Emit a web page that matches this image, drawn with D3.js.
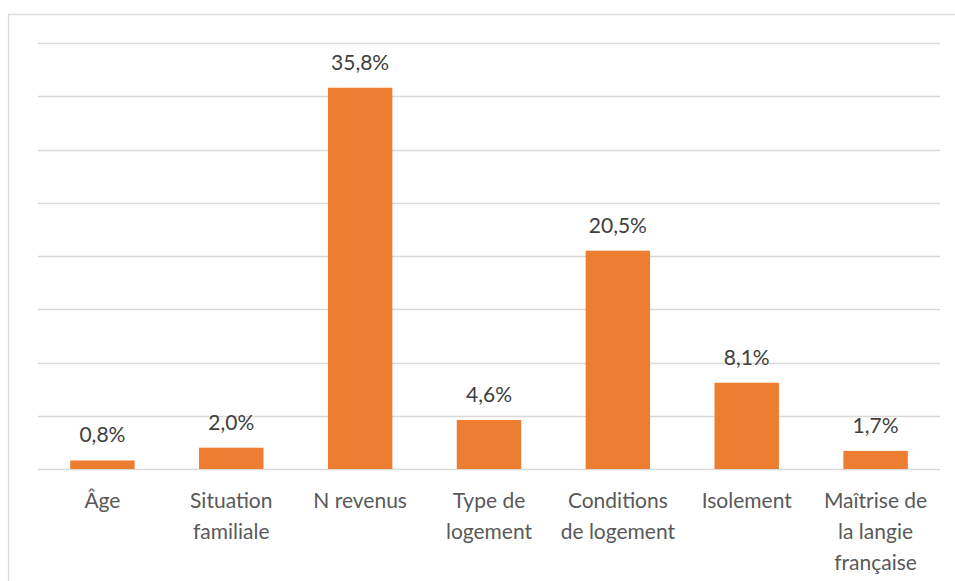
<!DOCTYPE html>
<html>
<head>
<meta charset="utf-8">
<script src="https://cdn.jsdelivr.net/npm/d3@7"></script>
<style>
  body { margin: 0; background: #fff; }
  svg { display: block; font-family: Lato, "Open Sans", sans-serif; }
</style>
</head>
<body>
<div id="vis"></div>
<script>
// données du graphique
const categories = [
  ["Âge"],
  ["Situation", "familiale"],
  ["N revenus"],
  ["Type de", "logement"],
  ["Conditions", "de logement"],
  ["Isolement"],
  ["Maîtrise de", "la langie", "française"]
];
const values = [0.8, 2.0, 35.8, 4.6, 20.5, 8.1, 1.7];
const yTicks = [0, 5, 10, 15, 20, 25, 30, 35, 40];

const width = 955;
const height = 581;
const margin = { top: 43, right: 15, bottom: 112, left: 38 };

const svg = d3.select("#vis")
  .append("svg")
  .attr("width", width)
  .attr("height", height);

// cadre du graphique
svg.append("rect")
  .attr("x", 8.5)
  .attr("y", 14.5)
  .attr("width", width)
  .attr("height", height)
  .attr("fill", "none")
  .attr("stroke", "#d9d9d9")
  .attr("stroke-width", 1.3);

const x = d3.scaleBand()
  .domain(d3.range(categories.length))
  .range([margin.left, width - margin.right])
  .paddingInner(0.5)
  .paddingOuter(0.25);

const y = d3.scaleLinear()
  .domain([0, 40])
  .range([height - margin.bottom, margin.top]);

// lignes de grille
svg.append("g")
  .selectAll("line")
  .data(yTicks)
  .enter()
  .append("line")
  .attr("x1", margin.left)
  .attr("x2", width - margin.right)
  .attr("y1", d => Math.round(y(d)) + 0.5)
  .attr("y2", d => Math.round(y(d)) + 0.5)
  .attr("stroke", "#d9d9d9")
  .attr("stroke-width", 1.5);

// barres
svg.append("g")
  .selectAll("rect")
  .data(values)
  .enter()
  .append("rect")
  .attr("x", (_d, i) => x(i))
  .attr("y", d => y(d))
  .attr("width", x.bandwidth())
  .attr("height", d => y(0) - y(d))
  .attr("fill", "#ed7d31");

// étiquettes de valeurs
svg.append("g")
  .selectAll("text")
  .data(values)
  .enter()
  .append("text")
  .attr("x", (_d, i) => x(i) + x.bandwidth() / 2)
  .attr("y", d => y(d) - 18)
  .attr("text-anchor", "middle")
  .attr("font-size", 21)
  .attr("fill", "#404040")
  .text(d => d.toFixed(1).replace(".", ",") + "%");

// étiquettes des catégories
const labels = svg.append("g")
  .selectAll("text")
  .data(categories)
  .enter()
  .append("text")
  .attr("x", (_d, i) => x(i) + x.bandwidth() / 2)
  .attr("y", y(0) + 39)
  .attr("text-anchor", "middle")
  .attr("font-size", 21)
  .attr("fill", "#595959");

labels.selectAll("tspan")
  .data(d => d)
  .enter()
  .append("tspan")
  .attr("x", function () { return d3.select(this.parentNode).attr("x"); })
  .attr("dy", (_d, i) => (i === 0 ? 0 : 31))
  .text(d => d);
</script>
</body>
</html>
